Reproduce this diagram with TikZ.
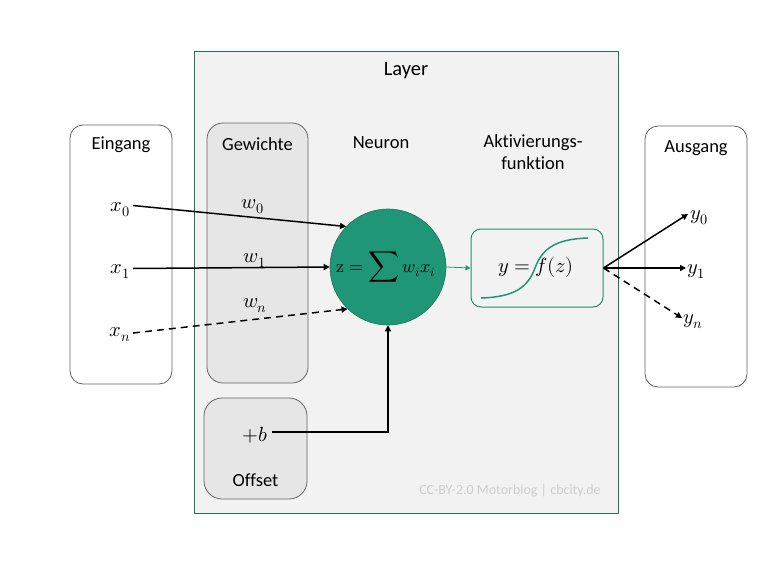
\documentclass[tikz,border=0pt]{standalone}
\usepackage{graphicx}
\usepackage{fontspec}
\usepackage{unicode-math}
\setmainfont{Carlito}[Ligatures=NoCommon]
\setmathfont{Latin Modern Math}
\usetikzlibrary{arrows.meta}
\definecolor{layergreen}{RGB}{30,118,88}
\definecolor{neurongreen}{RGB}{31,150,117}
\definecolor{actgreen}{RGB}{40,140,105}
\definecolor{layerfill}{RGB}{242,242,242}
\definecolor{boxfill}{RGB}{230,230,230}
\definecolor{boxborder}{RGB}{100,100,100}
\definecolor{wmgray}{RGB}{205,205,205}
\tikzset{
  txt/.style={font=\fontsize{18.5}{22}\selectfont, inner sep=1pt},
  mth/.style={font=\fontsize{20.5}{24}\selectfont, inner sep=1pt},
  iobox/.style={draw=boxborder, fill=white, rounded corners=13pt, line width=0.8pt},
  graybox/.style={draw=boxborder, fill=boxfill, rounded corners=16pt, line width=0.8pt},
  conn/.style={line width=1.5pt, -{Triangle[length=6pt,width=6pt]}},
  dconn/.style={conn, dash pattern=on 7pt off 5pt},
}
\begin{document}
\begin{tikzpicture}[x=1pt,y=-1pt]
\useasboundingbox[fill=white] (0,0) rectangle (770,578);
% layer
\node[draw=layergreen, fill=layerfill, line width=1pt, minimum width=424pt, minimum height=461pt] (layer) at (406,282.5) {};
\node[txt, font=\fontsize{20.5}{24}\selectfont] (layert) at (406,71) {Layer};
% boxes
\node[iobox, minimum width=102pt, minimum height=259pt] (ein) at (121,254.5) {};
\node[txt] (eint) at (121,145) {Eingang};
\node[graybox, minimum width=101pt, minimum height=260pt] (gew) at (257.5,253) {};
\node[txt] (gewt) at (257.5,144) {Gewichte};
\node[iobox, minimum width=102pt, minimum height=261pt] (aus) at (696,256.5) {};
\node[txt] (aust) at (696,148) {Ausgang};
\node[graybox, rounded corners=18pt, minimum width=103pt, minimum height=101pt] (off) at (255.5,448.5) {};
\node[txt] (offt) at (255.5,480) {Offset};
\node[txt] (neut) at (381,143) {Neuron};
\node[txt, align=center] (actt) at (533,152) {Aktivierungs-\\funktion};
% neuron
\node[circle, fill=neurongreen, draw=layergreen, line width=0.6pt, minimum size=116pt, inner sep=0pt] (circ) at (388,267) {};
\node[mth, font=\fontsize{18}{22}\selectfont] (sum) at (386,267) {$\symup{z} = \mathop{\scalebox{1.2}{$\displaystyle\sum$}} w_i x_i$};
% activation
\node[draw=actgreen, fill=layerfill, line width=1pt, rounded corners=10pt, minimum width=132pt, minimum height=78pt] (act) at (537,268) {};
\draw[neurongreen, line width=1.5pt] (481,298) .. controls (515,297) and (528,287) .. (535,268) .. controls (542,249) and (555,239) .. (588,238);
\node[mth] (fz) at (536,267) {$y = f(z)$};
\draw[neurongreen, line width=0.8pt, -{Triangle[length=5pt,width=5pt]}] (circ.east) -- (act.west);
% inputs
\node[mth] (x0) at (120,210) {$x_0$};
\node[mth] (x1) at (120,271) {$x_1$};
\node[mth] (xn) at (120,335) {$x_n$};
\node[mth] (w0) at (253,207) {$w_0$};
\node[mth] (w1) at (255,260) {$w_1$};
\node[mth] (wn) at (255,306) {$w_n$};
\coordinate (x0s) at (133,205.5);
\coordinate (x1s) at (133,268.5);
\coordinate (xns) at (133,333);
\draw[conn] (x0s) -- (circ.136);
\draw[conn] (x1s) -- (circ.west);
\draw[dconn] (xns) -- (circ.226);
% bias
\node[mth] (b) at (255,435) {$+b$};
\coordinate (bs) at (272,432);
\draw[conn] (bs) -| (circ.south);
% outputs
\coordinate (y0e) at (688,214);
\coordinate (y1e) at (686,268);
\coordinate (yne) at (682,318);
\node[mth, anchor=west] (y0) at (689,218) {$y_0$};
\node[mth, anchor=west] (y1) at (686,271) {$y_1$};
\node[mth, anchor=west] (yn) at (682,322) {$y_n$};
\draw[conn] (act.east) -- (y0e);
\draw[conn] (act.east) -- (y1e);
\draw[dconn] (act.east) -- (yne);
% watermark
\node[font=\fontsize{14}{16}\selectfont, text=wmgray, inner sep=0pt] (wm) at (510,491) {CC-BY-2.0 Motorblog | cbcity.de};
\end{tikzpicture}
\end{document}
